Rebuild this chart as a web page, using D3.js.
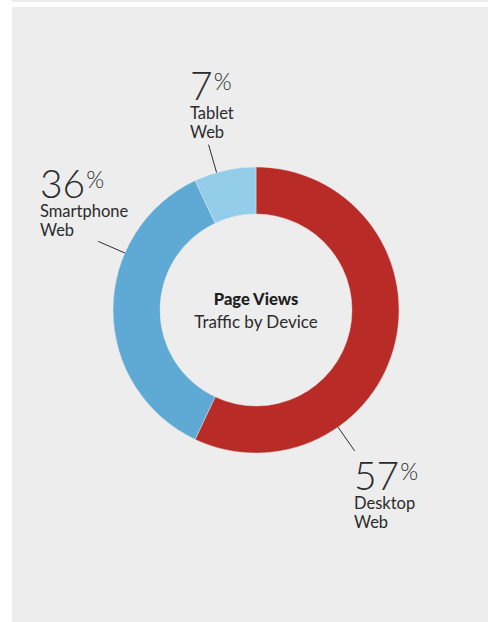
<!DOCTYPE html>
<html>
<head>
<meta charset="utf-8">
<script src="https://cdn.jsdelivr.net/npm/d3@7"></script>
<style>
  html, body { margin: 0; padding: 0; background: #ffffff; }
  svg { display: block; font-family: Lato, "Open Sans", sans-serif; }
</style>
</head>
<body>
<svg id="chart" width="488" height="622"></svg>
<script>
// Share of page views by device
const devices = ["Desktop Web", "Smartphone Web", "Tablet Web"];
const shares = [57, 36, 7];
const deviceColors = ["#b82b26", "#5fa9d5", "#93cde9"];

const title = "Page Views";
const subtitle = "Traffic by Device";

// label placement: anchor of the big number, and angle (deg, clockwise from 12 o'clock) of the leader line
const labelLayout = [
  { x: 354, y: 490, angle: 145 },
  { x: 40,  y: 198, angle: 293.5 },
  { x: 190, y: 100, angle: 344 }
];

const W = 488, H = 622;
const cx = 256, cy = 310;
const outerR = 143, innerR = 96;

const svg = d3.select("#chart");

// panel background
svg.append("rect").attr("x", 12).attr("y", 0).attr("width", W - 12).attr("height", 2).attr("fill", "#ececec");
svg.append("rect").attr("x", 12).attr("y", 7).attr("width", W - 12).attr("height", H - 7).attr("fill", "#ededed");

const data = devices.map((d, i) => ({ name: d, value: shares[i], color: deviceColors[i], layout: labelLayout[i] }));

const pie = d3.pie().value(d => d.value).sort(null);
const arc = d3.arc().innerRadius(innerR).outerRadius(outerR);

const g = svg.append("g").attr("transform", `translate(${cx},${cy})`);

g.selectAll("path.slice")
  .data(pie(data))
  .join("path")
  .attr("class", "slice")
  .attr("d", arc)
  .attr("fill", d => d.data.color)
  .attr("stroke", "#ededed")
  .attr("stroke-width", 0.4);

// leader lines
g.selectAll("line.leader")
  .data(data)
  .join("line")
  .attr("class", "leader")
  .each(function(d) {
    const a = d.layout.angle * Math.PI / 180;
    const p0 = d3.pointRadial(a, outerR);
    const p1 = d3.pointRadial(a, outerR + 29);
    d3.select(this).attr("x1", p0[0]).attr("y1", p0[1]).attr("x2", p1[0]).attr("y2", p1[1]);
  })
  .attr("stroke", "#2e2e2e")
  .attr("stroke-width", 1);

// labels: one text block per slice — big value, small percent sign, then the device name on two lines
const labels = svg.selectAll("text.label")
  .data(data)
  .join("text")
  .attr("class", "label")
  .attr("transform", d => `translate(${d.layout.x},${d.layout.y})`)
  .attr("fill", "#2b2b2b");

labels.each(function(d) {
  const t = d3.select(this);
  t.append("tspan")
    .attr("x", 0).attr("y", 0)
    .attr("font-size", 39)
    .attr("font-weight", 300)
    .text(d.value);
  t.append("tspan")
    .attr("dx", 1).attr("y", -10)
    .attr("font-size", 23)
    .attr("font-weight", 300)
    .text("%");
  d.name.split(" ").forEach((word, j) => {
    t.append("tspan")
      .attr("x", 0).attr("y", 19 + j * 18.5)
      .attr("font-size", 16.5)
      .text(word);
  });
});

// center titles
svg.append("text")
  .attr("x", cx).attr("y", 305)
  .attr("text-anchor", "middle")
  .attr("font-size", 16.5)
  .attr("font-weight", 900)
  .attr("fill", "#1e1e1e")
  .text(title);
svg.append("text")
  .attr("x", cx).attr("y", 328)
  .attr("text-anchor", "middle")
  .attr("font-size", 17)
  .attr("fill", "#2b2b2b")
  .text(subtitle);
</script>
</body>
</html>
